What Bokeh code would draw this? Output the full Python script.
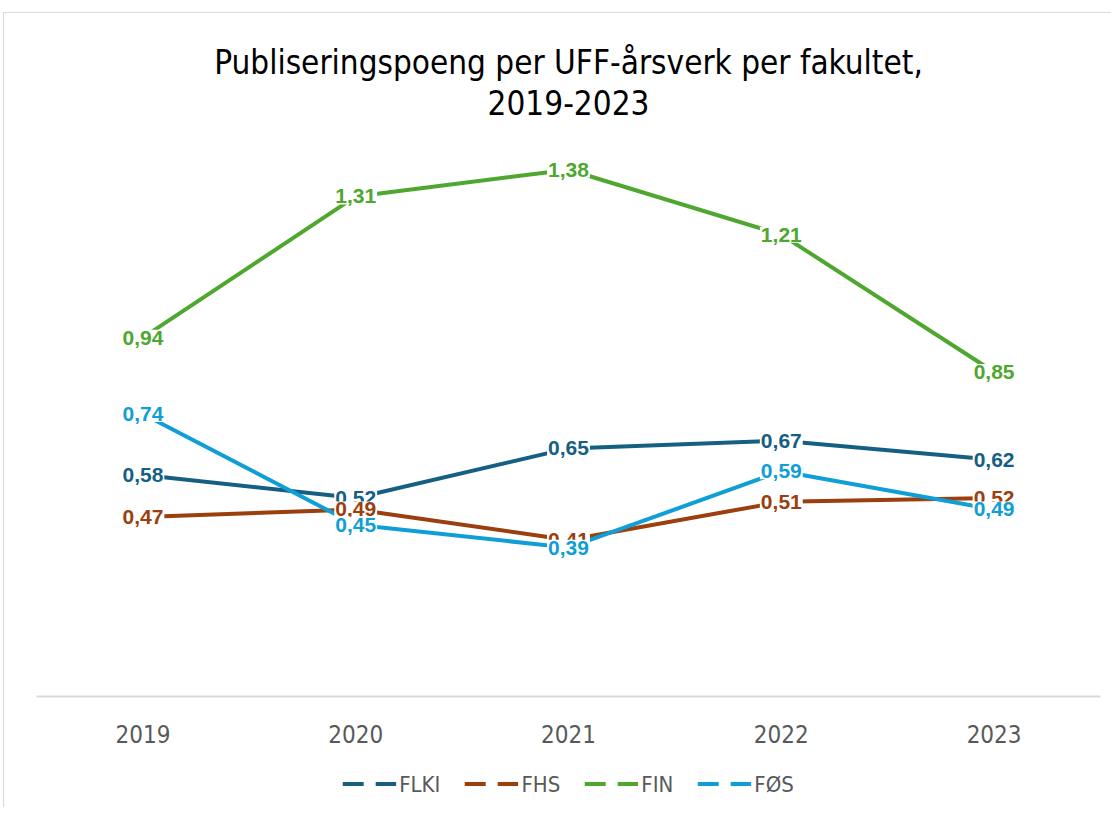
from bokeh.plotting import figure
from bokeh.layouts import column
from bokeh.models import Range1d, Legend, LegendItem, Label, ColumnDataSource, FixedTicker
from bokeh.core.properties import value
from bokeh.embed import file_html
from bokeh.resources import INLINE

years = ["2019", "2020", "2021", "2022", "2023"]
series_names = ["FLKI", "FHS", "FIN", "FØS"]
flki = [0.58, 0.52, 0.65, 0.67, 0.62]
fhs = [0.47, 0.49, 0.41, 0.51, 0.52]
fin = [0.94, 1.31, 1.38, 1.21, 0.85]
fos = [0.74, 0.45, 0.39, 0.59, 0.49]
colors = ["#156082", "#9B3F0E", "#4EA72E", "#0F9ED5"]
title_lines = ["Publiseringspoeng per UFF-årsverk per fakultet,", "2019-2023"]

NARROW = "'DejaVu Sans Condensed', 'Roboto Condensed', 'Liberation Sans'"
SANS = "Liberation Sans"

p = figure(width=1107, height=747, output_backend="svg", toolbar_location=None,
           x_range=Range1d(-0.5, 4.5), y_range=Range1d(0, 1.75),
           min_border_left=32, min_border_right=11, min_border_top=15, min_border_bottom=64)
p.outline_line_color = None
p.xgrid.visible = False
p.ygrid.visible = False
p.yaxis.visible = False
p.background_fill_color = "white"

xs = list(range(len(years)))
all_series = [flki, fhs, fin, fos]

for vals, c in zip(all_series, colors):
    p.line(xs, vals, line_color=c, line_width=4)

for vals, c in zip(all_series, colors):
    src = ColumnDataSource(dict(x=xs, y=vals, t=[f"{v:.2f}".replace(".", ",") for v in vals]))
    p.text(x="x", y="y", text="t", source=src, text_color=c, text_font=value(SANS),
           text_font_style="bold", text_font_size="21px", text_align="center",
           text_baseline="middle", background_fill_color="white", padding=1)

xa = p.xaxis[0]
xa.ticker = FixedTicker(ticks=xs)
xa.major_label_overrides = {i: y for i, y in enumerate(years)}
xa.axis_line_color = "#D9D9D9"
xa.axis_line_width = 2
xa.major_tick_line_color = None
xa.minor_tick_line_color = None
xa.major_label_text_color = "#595959"
xa.major_label_text_font = NARROW
xa.major_label_text_font_size = "24px"
xa.major_label_standoff = 22

for txt, yy in zip(title_lines, [1.66, 1.555]):
    p.add_layout(Label(x=2, y=yy, text=txt, text_align="center", text_baseline="middle",
                       text_font=NARROW, text_font_size="33px", text_color="black"))

# legend in a separate strip below the chart
lg = figure(width=1107, height=47, output_backend="svg", toolbar_location=None,
            x_range=Range1d(0, 1), y_range=Range1d(0, 1),
            min_border_left=0, min_border_right=8, min_border_top=0, min_border_bottom=0)
lg.outline_line_color = None
lg.axis.visible = False
lg.grid.visible = False

items = []
for name, c in zip(series_names, colors):
    r = lg.line([5, 6], [5, 6], line_color=c, line_width=4, line_dash="21 12")
    items.append(LegendItem(label=name, renderers=[r]))
legend = Legend(items=items, orientation="horizontal", glyph_width=54, glyph_height=20,
                label_text_font=NARROW, label_text_font_size="22px", label_text_color="#595959",
                label_standoff=3, spacing=24, border_line_color=None, background_fill_alpha=0,
                margin=0, padding=4, location="center")
lg.add_layout(legend)

layout = column(p, lg, spacing=0, margin=(12, 0, 0, 3),
                styles={"border-left": "1px solid #D9D9D9", "border-top": "1px solid #D9D9D9"})

open("out.html", "w").write(file_html(layout, INLINE))
